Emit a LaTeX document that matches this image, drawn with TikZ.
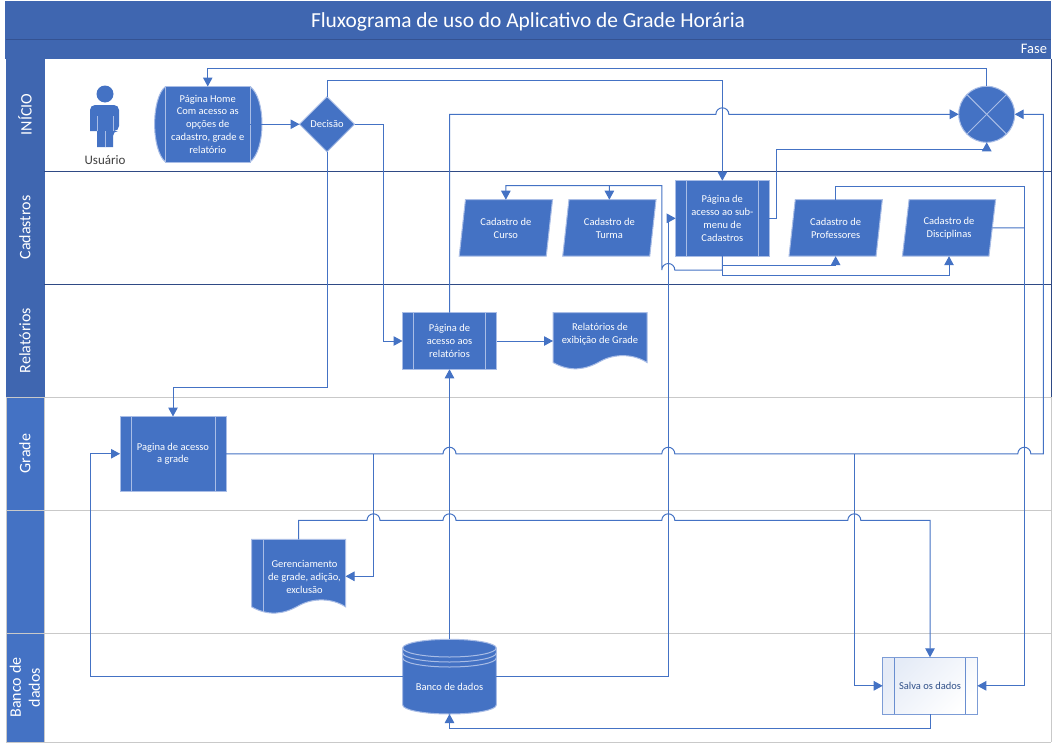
\documentclass[tikz,border=0pt]{standalone}
\usepackage{fontspec}
\setmainfont{Carlito}
\usetikzlibrary{arrows.meta}
\usetikzlibrary{shapes.geometric}

\definecolor{blockcol}{HTML}{4472C4}
\definecolor{blockedge}{HTML}{A9BDE6}
\definecolor{headcol}{HTML}{3F66B0}
\definecolor{lanedark}{HTML}{2F4A85}
\definecolor{lanelight}{HTML}{C9C9C9}

\newcommand{\hopr}[2]{-- (#1-6.5,#2) arc[start angle=180,end angle=360,radius=6.5]}
\newcommand{\hopl}[2]{-- (#1+6.5,#2) arc[start angle=0,end angle=-180,radius=6.5]}
\newcommand{\wavebody}[3]{\draw[blockline,shift={(#1,#2)}] (0,0) -- (0,#3-6.5) .. controls (-13,#3-15) and (-32,#3-16) .. (-47,#3-7.5) .. controls (-62,#3+1) and (-77,#3+3) .. (-94,#3-6.5) -- (-94,0) -- cycle;}

\begin{document}
\begin{tikzpicture}[x=1pt,y=-1pt,inner sep=0pt,outer sep=0pt,line width=1pt,>={Triangle[length=9pt,width=9.5pt]},
flow/.style={draw=blockcol,fill=none},
blockline/.style={draw=blockedge,fill=blockcol},
blocktext/.style={text=white,align=center,font=\fontsize{10.5}{12.9}\selectfont},
pagebox/.style={blockline,blocktext,rectangle,path picture={
  \draw[blockedge] ([xshift=11]path picture bounding box.north west) -- ([xshift=11]path picture bounding box.south west);
  \draw[blockedge] ([xshift=-11]path picture bounding box.north east) -- ([xshift=-11]path picture bounding box.south east);}},
inputbox/.style={blockline,blocktext,trapezium,trapezium left angle=79,trapezium right angle=101,trapezium stretches=true,minimum width=93.5,minimum height=56.5},
lanehead/.style={rectangle,text=white,align=center,rotate=90,minimum height=38,font=\fontsize{16}{19}\selectfont}]
\useasboundingbox (0,0) rectangle (1057,744);
\fill[white] (0,0) rectangle (1057,744);

\draw (528,20.5) node[fill=headcol,draw=headcol,minimum width=1045,minimum height=38,text=white,text depth=0pt,font=\fontsize{21.4}{24}\selectfont] (title) {Fluxograma de uso do Aplicativo de Grade Horária};
\draw (528,49) node[fill=headcol,draw=headcol,minimum width=1045,minimum height=19] (phase) {};
\draw[lanedark!70!headcol] (title.south west) -- (title.south east);
\draw (1047,48.5) node[anchor=east,text=white,font=\fontsize{14.5}{16}\selectfont] (phasetext) {Fase};

\draw (25,114.5) node[lanehead,fill=headcol,draw=headcol,minimum width=113] (laneA) {INÍCIO};
\draw (25,227.5) node[lanehead,fill=headcol,draw=headcol,minimum width=113] (laneB) {Cadastros};
\draw (25,340.5) node[lanehead,fill=headcol,draw=headcol,minimum width=113] (laneC) {Relatórios};
\draw (25,453.5) node[lanehead,fill=blockcol,draw=lanelight,minimum width=113] (laneD) {Grade};
\draw (25,571.5) node[lanehead,fill=blockcol,draw=lanelight,minimum width=123] (laneE) {};
\draw (25,687.5) node[lanehead,fill=blockcol,draw=lanelight,minimum width=109] (laneF) {Banco de\\dados};

\draw[lanedark] (laneA.south west) -- (1051,171);
\draw[lanedark] (laneB.south west) -- (1051,284);
\draw[lanelight] (laneC.south west) -- (1051,397);
\draw[lanelight] (laneD.south west) -- (1051,510);
\draw[lanelight] (laneE.south west) -- (1051,633);
\draw[lanelight] (laneF.south west) -- (1051,742);
\draw[lanedark] (1051,58.5) -- (1051,397);
\draw[lanelight] (1051,397) -- (1051,742);

\fill[blockcol] (105,94) circle (8.5);
\fill[blockcol,rounded corners=5] (90,131) -- (90,105) -- (119,105) -- (119,131) -- (113,131) [sharp corners] -- (113,147) -- (97,147) -- (97,131) -- cycle;
\draw[blockedge,line width=.6pt] (105,131) -- (105,147);
\draw[blockedge,line width=.6pt] (97,116) -- (97,131);
\draw[blockedge,line width=.6pt] (113,116) -- (113,131);
\draw (105,160) node[text=black!75,font=\fontsize{13}{15}\selectfont] (user) {Usuário};

\draw[blockline] (165.5,86.5) .. controls (151,98) and (151,150) .. (165.5,162) -- (250,162) .. controls (266,150) and (266,98) .. (250,86.5) -- cycle;
\draw (207.75,124.25) node[blockline,blocktext,minimum width=84.5,minimum height=75.5] (home) {Página Home\\Com acesso as\\opções de\\cadastro, grade e\\relatório};
\draw (327,124.25) node[blockline,blocktext,diamond,minimum width=55,minimum height=55] (dec) {Decisão};

\draw (986.7,114.3) node[blockline,circle,minimum size=56] (circ) {};
\draw[blockedge] (circ.45) -- (circ.225);
\draw[blockedge] (circ.135) -- (circ.-45);

\draw (505.85,227.95) node[inputbox] (curso) {Cadastro de\\Curso};
\draw (609.35,227.95) node[inputbox] (turma) {Cadastro de\\Turma};
\draw (722.35,218.35) node[pagebox,minimum width=93.3,minimum height=75.3] (subm) {Página de\\acesso ao sub-\\menu de\\Cadastros};
\draw (835.65,227.95) node[inputbox] (prof) {Cadastro de\\Professores};
\draw (949,227.95) node[inputbox] (disc) {Cadastro de\\Disciplinas};

\draw (449.5,341) node[pagebox,minimum width=94,minimum height=56.6] (relp) {Página de\\acesso aos\\relatórios};
\wavebody{647}{312.7}{56.3}
\draw (600,333.85) node[blocktext,minimum width=94,minimum height=42.3] (reld) {Relatórios de\\exibição de Grade};

\draw (173,453.75) node[pagebox,minimum width=106,minimum height=74.5] (gradep) {Pagina de acesso\\a grade};

\wavebody{345.5}{539.3}{74}
\draw (298.5,576.3) node[minimum width=94,minimum height=74] (gdoc) {};
\draw[blockedge] (263.3,539.3) -- (263.3,612);
\draw (304.5,577) node[blocktext] (gdoctext) {Gerenciamento\\de grade, adição,\\exclusão};

\draw[blockline] (402.7,648) arc[start angle=180,end angle=360,x radius=46.8,y radius=8.7] -- (496.3,705) arc[start angle=0,end angle=180,x radius=46.8,y radius=9] -- cycle;
\foreach \ylev in {648,653,658} {
  \draw[blockedge] (402.7,\ylev) arc[start angle=180,end angle=0,x radius=46.8,y radius=9];
}
\draw (449.5,676.65) node[blocktext,minimum width=93.6,minimum height=74.7] (db) {\smash{\raisebox{-14pt}{Banco de dados}}};

\draw (930,685.8) node[rectangle,draw=blockcol!70!white,shading=axis,top color=blockcol!14!white,bottom color=white,shading angle=45,text=blockcol!70!black,font=\fontsize{10.5}{12.9}\selectfont,minimum width=94.6,minimum height=57,path picture={
  \draw[blockcol!80!white] ([xshift=11.6]path picture bounding box.north west) -- ([xshift=11.6]path picture bounding box.south west);
  \draw[blockcol!80!white] ([xshift=-11.6]path picture bounding box.north east) -- ([xshift=-11.6]path picture bounding box.south east);}] (salva) {Salva os dados};

\draw[->,flow] (home.east) -- (dec.west);
\draw[->,flow] (dec.north) |- (722.35,80.7) -- (subm.north);
\draw[->,flow] (dec.east) -- (383,124.25) |- (relp.west);
\draw[->,flow] (dec.south) -- (327,387) -| (gradep.north);
\draw[->,flow] (circ.north) -- (986.7,68.8) -| (home.north);
\draw[->,flow] (relp.north) -- (449.5,114.3) \hopr{722.35}{114.3} -- (circ.west);
\draw[->,flow] (relp.east) -- (relp.east -| reld.west);
\draw[->,flow] (subm.east) -- (776.7,218.35) -- (776.7,149.7) -| (circ.south);
\draw[->,flow] (subm.south) -- (722.35,265.7) -| (prof.south);
\draw[->,flow] (subm.south) -- (722.35,275) -| (disc.south);
\draw[->,flow] (subm.south) -- (722.35,270) \hopl{668.3}{270} -- (661.8,185.7) -| (curso.north);
\draw[->,flow] (609.35,185.7) -- (turma.north);
\draw[->,flow] (db.east) -- (668.3,676.65) |- (subm.west);
\draw[->,flow] (db.west) -- (90.7,676.65) |- (gradep.west);
\draw[->,flow] (db.north) -- (relp.south);
\draw[->,flow] (gradep.east) \hopr{449.5}{453.75} \hopr{668.3}{453.75} \hopr{1024.3}{453.75} -- (1043.3,453.75) |- (circ.east);
\draw[->,flow] (373.5,453.75) |- (gdoc.east);
\draw[->,flow] (854.3,453.75) |- (salva.west);
\draw[->,flow] (gdoc.north) -- (298.5,520.3) \hopr{373.5}{520.3} \hopr{449.5}{520.3} \hopr{668.3}{520.3} \hopr{854.3}{520.3} -- (930,520.3) -- (salva.north);
\draw[->,flow] (prof.north) |- (1024.3,186) |- (salva.east);
\draw[flow] (disc.east) -- (1024.3,227.95);
\draw[->,flow] (salva.south) -- (930,728) -| (db.south);
\end{tikzpicture}
\end{document}
